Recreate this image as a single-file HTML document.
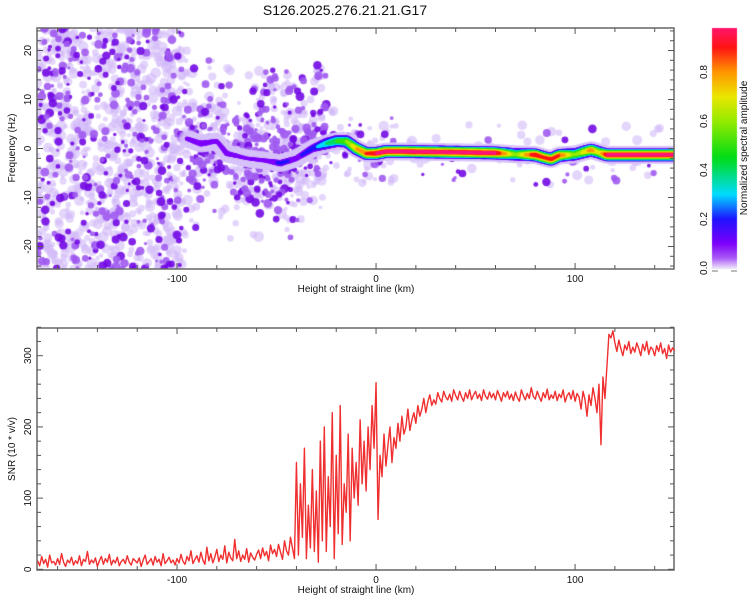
<!DOCTYPE html>
<html><head><meta charset="utf-8"><style>
body{margin:0;background:#fff;width:750px;height:600px;overflow:hidden;position:relative;font-family:"Liberation Sans",sans-serif}
canvas,svg{position:absolute;left:0;top:0}
</style></head><body>
<canvas id="spec" width="750" height="600"></canvas>
<svg id="ov" width="750" height="600" font-family="Liberation Sans, sans-serif"></svg>
<script>
// ---- data ----
const snrStartKm = -170;            // first sample km, 1 km step
const snrValues = [
12,5,18,8,14,3,20,9,11,6, 15,7,22,10,4,13,9,17,6,12, 8,19,5,14,11,25,7,13,9,16,
4,12,18,7,15,10,21,6,13,9, 17,5,11,14,8,19,10,6,15,12, 9,16,4,13,20,7,11,15,6,18,
10,14,5,22,8,12,17,9,13,6, 15,9,21,11,7,18,12,26,8,14, 19,10,24,13,7,31,12,22,9,17,
28,11,20,14,33,9,24,16,12,42, 15,26,11,20,14,29,10,23,17,13, 21,27,15,30,19,25,12,34,22,28,
18,35,24,14,40,26,20,45,30,15, 150,20,120,45,170,15,90,30,140,25, 110,10,180,40,200,25,130,60,220,15,
160,50,230,35,120,80,190,40,170,100, 150,90,210,120,180,110,200,140,230,170,
262,70,160,130,190,145,175,200,150,185, 170,205,180,215,190,200,225,195,210,220,
205,230,215,225,240,220,235,245,230,238, 232,248,240,235,250,242,238,246,236,252,
244,238,250,242,236,248,240,252,238,245, 250,240,246,237,252,243,239,249,241,247,
238,251,244,236,248,242,250,239,246,237, 249,241,236,252,244,238,247,240,255,243,
239,250,242,236,248,241,253,238,245,240, 250,237,246,241,252,235,244,248,239,251,
236,247,242,225,250,238,215,245,230,255, 240,220,260,175,270,240,285,330,325,335,
318,306,322,310,300,315,308,320,303,312, 305,318,310,300,316,307,320,302,312,309,
300,314,306,318,303,310,296,315,305,311, 307];
const ridgeKm  = [-95,-88,-80,-75,-65,-55,-48,-40,-32,-25,-20,-15,-10,-5,0,5,10,30,60,70,80,84,88,92,100,108,112,116,150];
const ridgeHz  = [2,1,1.5,-1,-2,-2.5,-3,-2,0,1,1.5,1.5,0,-1,-1,-0.6,-0.6,-0.7,-0.9,-1.2,-1.3,-1.8,-2.2,-1.4,-1.2,-0.3,-0.8,-1.3,-1.3];
const ridgeAmp = [0.15,0.2,0.15,0.18,0.12,0.15,0.22,0.18,0.25,0.4,0.5,0.6,0.8,0.9,1,1,1,1,1,0.6,1,0.9,0.95,0.9,0.6,0.85,0.7,1,1];
const xTicks = [-100,0,100];
const freqTicks = [-20,-10,0,10,20];
const snrTicks = [0,100,200,300];
const cbTicks = [0.0,0.2,0.4,0.6,0.8];

// ---- axes ----
const X0=37,X1=674, KM0=-170.35, KM1=149.7;
const xs = k => X0+(k-KM0)/(KM1-KM0)*(X1-X0);
const T0=28,T1=269, ys1 = f => 148.5 - f*4.9;
const B0=328,B1=570, ys2 = v => 569.3 - v*0.712;
const CB0=269, cbY = v => 268 - v*245;

function cmap(v){
  const st=[[0,[235,225,252]],[0.04,[170,90,245]],[0.1,[125,0,250]],[0.2,[30,20,255]],[0.3,[0,220,255]],[0.45,[0,220,20]],[0.6,[150,235,0]],[0.7,[235,230,0]],[0.8,[255,150,0]],[0.9,[255,20,20]],[1,[255,20,130]]];
  v=Math.max(0,Math.min(1,v));
  for(let i=1;i<st.length;i++){if(v<=st[i][0]+1e-9){const a=st[i-1],b=st[i],t=Math.min(1,(v-a[0])/(b[0]-a[0]));
    return 'rgb('+a[1].map((c,j)=>Math.round(c+(b[1][j]-c)*t)).join(',')+')';}}
  return 'rgb(255,20,130)';
}
function ridgeAt(k){
  let i=0;while(i<ridgeKm.length-2&&ridgeKm[i+1]<k)i++;
  const t=Math.max(0,Math.min(1,(k-ridgeKm[i])/(ridgeKm[i+1]-ridgeKm[i])));
  return [ridgeHz[i]+(ridgeHz[i+1]-ridgeHz[i])*t, ridgeAmp[i]+(ridgeAmp[i+1]-ridgeAmp[i])*t];
}

// ---- spectrogram (canvas) ----
const cv=document.getElementById('spec'),ctx=cv.getContext('2d');
ctx.save();ctx.beginPath();ctx.rect(X0,T0,X1-X0,T1-T0);ctx.clip();
let seed=12345;const rnd=()=>(seed=(seed*1103515245+12345)%2147483648)/2147483648;
function blob(x,y,r,c,a){ctx.globalAlpha=a;ctx.fillStyle=c;ctx.beginPath();ctx.arc(x,y,r,0,7);ctx.fill();}
// background speckle texture
const light=[],dark=[];
for(let i=0;i<8000;i++){
  const k=KM0+rnd()*(KM1-KM0), f=-25+rnd()*50;
  const lvl=rnd(), r=1.5+rnd()*3, pr=rnd();
  let ok=false, p=1, dk=0.68;
  if(k<-95){ok=true;p=0.6;}
  else if(k<-25){const rh=ridgeAt(k)[0];
    if(Math.abs(f-rh)<5){ok=true;p=1;dk=0.35;}
    else if(Math.abs(f-rh)<9){ok=true;p=0.7;dk=0.5;}
    else if(k>-62&&f>4&&f<16){ok=true;p=0.45;dk=0.5;}
    else if(Math.abs(f-rh)<18){ok=true;p=0.1;}}
  else if(k<10){const rh=ridgeAt(k)[0]; if(Math.abs(f-rh)<7){ok=true;p=0.35;}}
  else {const rh=ridgeAt(k)[0]; if(Math.abs(f-rh)<6){ok=true;p=0.1;}}
  if(!ok||pr>p) continue;
  if(lvl<dk) light.push([xs(k),ys1(f),r*1.2]); else dark.push([xs(k),ys1(f),r,lvl]);
}
light.forEach(b=>blob(b[0],b[1],b[2],'rgb(210,185,248)',0.6));
dark.forEach(b=>blob(b[0],b[1],b[2],b[3]<0.85?'rgb(160,90,240)':'rgb(115,10,228)',0.9));
// ridge: level by level
const pts=[];
for(let k=ridgeKm[0];k<=ridgeKm[ridgeKm.length-1];k+=0.4){const [hz,amp]=ridgeAt(k);pts.push([xs(k),ys1(hz),amp]);}
pts.forEach(p=>blob(p[0],p[1],9,'rgb(215,195,248)',0.35));
for(let l=0.1;l<=1.0001;l+=0.1){
  pts.forEach(p=>{ if(l<=p[2]+1e-6){ const r=1.5+5.5*(1-l/Math.max(p[2],0.1))*Math.min(1,p[2]*2.5); blob(p[0],p[1],r,cmap(l),1);} });
}
ctx.restore();ctx.globalAlpha=1;
// colorbar
const g=ctx.createLinearGradient(0,CB0,0,28);
for(let v=0;v<=1.0001;v+=0.02) g.addColorStop(Math.min(1,(CB0-cbY(v))/(CB0-28)),cmap(v));
ctx.fillStyle=g;ctx.fillRect(712,28,25,CB0-28);

// ---- SVG overlay ----
const sv=document.getElementById('ov');const NS='http://www.w3.org/2000/svg';
function el(tag,at,txt){const e=document.createElementNS(NS,tag);for(const k in at)e.setAttribute(k,at[k]);if(txt!==undefined)e.textContent=txt;sv.appendChild(e);return e;}
let e=el('text',{x:345,y:15,'text-anchor':'middle','font-size':14,fill:'#111'},'S126.2025.276.21.21.G17');


function frame(y0,y1,name){
  const r=el('rect',{x:X0,y:y0,width:X1-X0,height:y1-y0,fill:'none',stroke:'#666','stroke-width':1.5});
  
  
  for(let k=-160;k<=140;k+=20){const x=xs(k),L=(k%100===0)?6:4;
    el('line',{x1:x,x2:x,y1:y0,y2:y0+L,stroke:'#555'});el('line',{x1:x,x2:x,y1:y1,y2:y1-L,stroke:'#555'});}
}
frame(T0,T1,'spectrogram-frame');frame(B0,B1,'snr-frame');
for(const k of xTicks){for(const yy of [T1+13,B1+13]){
  e=el('text',{x:xs(k),y:yy,'text-anchor':'middle','font-size':10,fill:'#111'},String(k));
  
  }}
for(let f=-24;f<=24;f+=2){const y=ys1(f),L=(f%10===0)?6:4;
  el('line',{x1:X0,x2:X0+L,y1:y,y2:y,stroke:'#555'});el('line',{x1:X1,x2:X1-L,y1:y,y2:y,stroke:'#555'});}
for(const f of freqTicks){e=el('text',{transform:`translate(31,${ys1(f)}) rotate(-90)`,'text-anchor':'middle','font-size':10,fill:'#111'},String(f));
  
  }
for(let v=0;v<=340;v+=20){const y=ys2(v),L=(v%100===0)?6:4;
  el('line',{x1:X0,x2:X0+L,y1:y,y2:y,stroke:'#555'});el('line',{x1:X1,x2:X1-L,y1:y,y2:y,stroke:'#555'});}
for(const v of snrTicks){e=el('text',{transform:`translate(31,${ys2(v)}) rotate(-90)`,'text-anchor':'middle','font-size':10,fill:'#111'},String(v));
  
  }
e=el('text',{x:356,y:292,'text-anchor':'middle','font-size':10,fill:'#111'},'Height of straight line (km)');


e=el('text',{x:356,y:593,'text-anchor':'middle','font-size':10,fill:'#111'},'Height of straight line (km)');


e=el('text',{transform:'translate(15,148) rotate(-90)','text-anchor':'middle','font-size':10,fill:'#111'},'Frequency (Hz)');


e=el('text',{transform:'translate(15,449) rotate(-90)','text-anchor':'middle','font-size':10,fill:'#111'},'SNR (10 * v/v)');


// SNR line
let d='';snrValues.forEach((v,i)=>{d+=(i?'L':'M')+xs(snrStartKm+i).toFixed(2)+','+ys2(v).toFixed(2);});
e=el('path',{d:d,fill:'none',stroke:'#f03030','stroke-width':1.4,'stroke-linejoin':'round'});


// colorbar labels
for(const v of cbTicks){e=el('text',{transform:`translate(707,${cbY(v)}) rotate(-90)`,'text-anchor':'middle','font-size':10,fill:'#111'},v.toFixed(1));
  
  }
el('line',{x1:712,x2:718,y1:271,y2:271,stroke:'#777'});el('line',{x1:731,x2:737,y1:271,y2:271,stroke:'#777'});
e=el('text',{transform:'translate(747,148) rotate(-90)','text-anchor':'middle','font-size':10,fill:'#111'},'Normalized spectral amplitude');


</script>
</body></html>
